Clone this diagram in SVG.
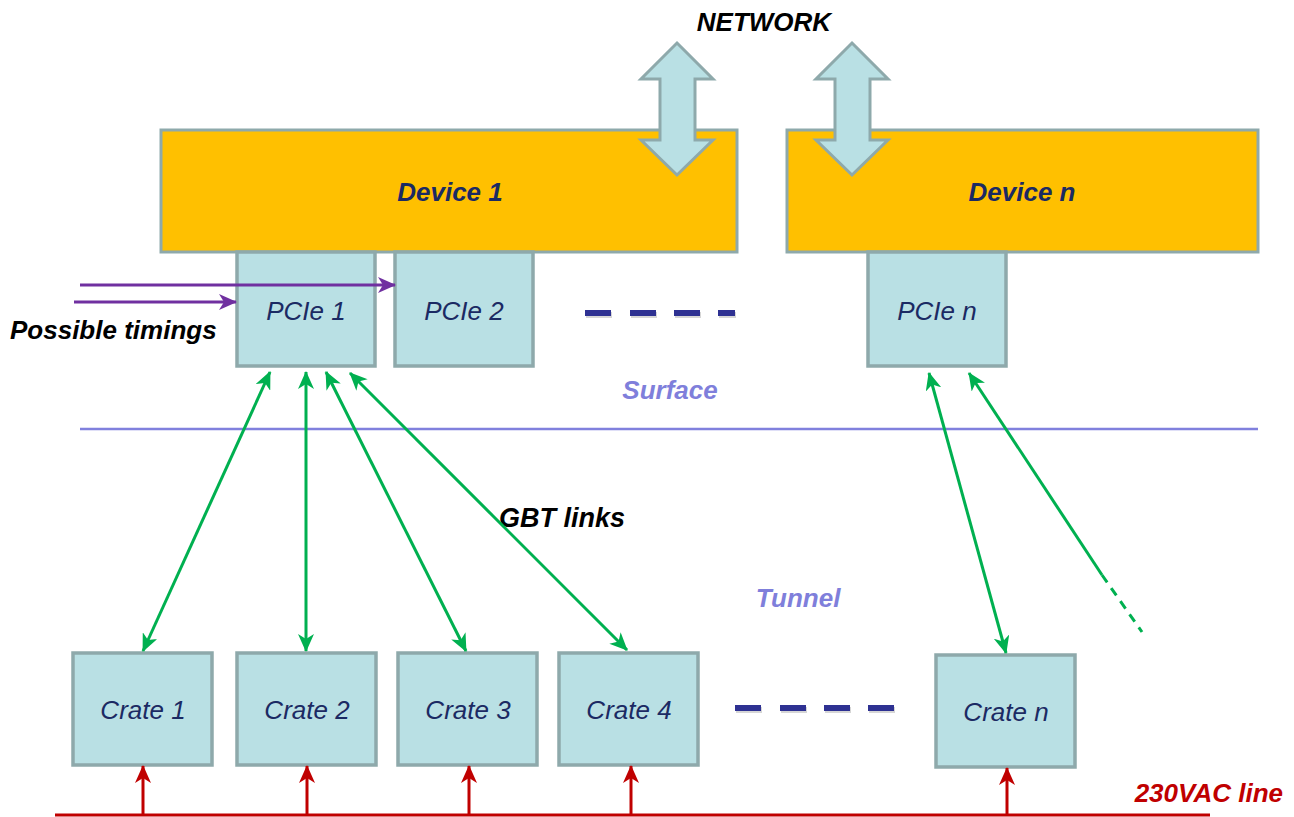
<svg xmlns="http://www.w3.org/2000/svg" width="1294" height="817" viewBox="0 0 1294 817">
<style>
.dev{fill:#FFC000;stroke:#8EA9AB;stroke-width:3}
.box{fill:#B9E0E4;stroke:#8EA9AB;stroke-width:3.5}
.net{fill:#B9E0E4;stroke:#8EA9AB;stroke-width:3;stroke-linejoin:miter}
.t{font-family:"Liberation Sans",Arial,sans-serif;font-style:italic;text-anchor:middle}
.bt{font-family:"Liberation Sans",Arial,sans-serif;font-style:italic;font-weight:bold}
.lbl{font-size:26px;fill:#1B2A63}
.g{stroke:#00B050;stroke-width:3;fill:none}
.r{stroke:#C00000;stroke-width:3;fill:none}
.p{stroke:#7030A0;stroke-width:3;fill:none}
.dash{fill:#2E3192}
</style>
<defs>
<marker id="ga" viewBox="0 0 18 16" refX="17" refY="8" markerWidth="18" markerHeight="16" markerUnits="userSpaceOnUse" orient="auto-start-reverse">
<path d="M0,0 L18,8 L0,16 L5,8 z" fill="#00B050"/>
</marker>
<marker id="ra" viewBox="0 0 18 16" refX="17" refY="8" markerWidth="18" markerHeight="16" markerUnits="userSpaceOnUse" orient="auto">
<path d="M0,0 L18,8 L0,16 L5,8 z" fill="#C00000"/>
</marker>
<marker id="pa" viewBox="0 0 18 16" refX="17" refY="8" markerWidth="18" markerHeight="16" markerUnits="userSpaceOnUse" orient="auto">
<path d="M0,0 L18,8 L0,16 L5,8 z" fill="#7030A0"/>
</marker>
</defs>
<rect width="1294" height="817" fill="#FFFFFF"/>

<text class="bt" x="764" y="31" font-size="26" text-anchor="middle" fill="#000">NETWORK</text>

<g id="device1">
<rect class="dev" x="161" y="130" width="576" height="122"/>
<text class="t" x="450" y="201" font-size="26" font-weight="bold" fill="#1B2A63">Device 1</text>
</g>
<g id="devicen">
<rect class="dev" x="787" y="130" width="471" height="122"/>
<text class="t" x="1022" y="201" font-size="26" font-weight="bold" fill="#1B2A63">Device n</text>
</g>

<g id="network-arrows">
<polygon class="net" points="677,43 713,79 695,79 695,140 713,140 677,175 641,140 660,140 660,79 641,79"/>
<polygon class="net" points="852,43 888,79 870,79 870,140 888,140 852,175 816,140 835,140 835,79 816,79"/>
</g>

<g id="pcie1">
<rect class="box" x="237" y="252" width="138" height="114"/>
<text class="t lbl" x="306" y="320">PCIe 1</text>
</g>
<g id="pcie2">
<rect class="box" x="395" y="252" width="138" height="114"/>
<text class="t lbl" x="464" y="320">PCIe 2</text>
</g>
<g id="pcien">
<rect class="box" x="868" y="252" width="138" height="114"/>
<text class="t lbl" x="937" y="320">PCIe n</text>
</g>

<g id="dashes">
<rect x="586" y="312" width="26" height="6" fill="#bbb" opacity="0.6"/>
<rect class="dash" x="585" y="310" width="26" height="6"/>
<rect x="631" y="312" width="26" height="6" fill="#bbb" opacity="0.6"/>
<rect class="dash" x="630" y="310" width="26" height="6"/>
<rect x="675" y="312" width="26" height="6" fill="#bbb" opacity="0.6"/>
<rect class="dash" x="674" y="310" width="26" height="6"/>
<rect x="719" y="312" width="17" height="6" fill="#bbb" opacity="0.6"/>
<rect class="dash" x="718" y="310" width="17" height="6"/>
<rect x="736" y="707" width="26" height="6" fill="#bbb" opacity="0.6"/>
<rect class="dash" x="735" y="705" width="26" height="6"/>
<rect x="781" y="707" width="26" height="6" fill="#bbb" opacity="0.6"/>
<rect class="dash" x="780" y="705" width="26" height="6"/>
<rect x="825" y="707" width="26" height="6" fill="#bbb" opacity="0.6"/>
<rect class="dash" x="824" y="705" width="26" height="6"/>
<rect x="869" y="707" width="26" height="6" fill="#bbb" opacity="0.6"/>
<rect class="dash" x="868" y="705" width="26" height="6"/>
</g>

<text class="bt" x="10" y="339" font-size="26" fill="#000">Possible timings</text>

<text class="t" x="670" y="399" font-size="26" font-weight="bold" fill="#7F7FDB">Surface</text>
<line x1="80" y1="429" x2="1258" y2="429" stroke="#8080DD" stroke-width="2.5"/>
<text class="t" x="798" y="607" font-size="26" font-weight="bold" fill="#7F7FDB">Tunnel</text>
<text class="bt" x="562" y="527" font-size="27" text-anchor="middle" fill="#000">GBT links</text>

<g id="crate1">
<rect class="box" x="73" y="653" width="139" height="112"/>
<text class="t lbl" x="143" y="719">Crate 1</text>
</g>
<g id="crate2">
<rect class="box" x="237" y="653" width="139" height="112"/>
<text class="t lbl" x="307" y="719">Crate 2</text>
</g>
<g id="crate3">
<rect class="box" x="398" y="653" width="139" height="112"/>
<text class="t lbl" x="468" y="719">Crate 3</text>
</g>
<g id="crate4">
<rect class="box" x="559" y="653" width="139" height="112"/>
<text class="t lbl" x="629" y="719">Crate 4</text>
</g>
<g id="craten">
<rect class="box" x="936" y="655" width="139" height="112"/>
<text class="t lbl" x="1006" y="721">Crate n</text>
</g>

<text class="bt" x="1283" y="802" font-size="26" text-anchor="end" fill="#C00000">230VAC line</text>

<g id="connectors">
<line class="p" x1="80" y1="285" x2="395" y2="285" marker-end="url(#pa)"/>
<line class="p" x1="74" y1="302" x2="236" y2="302" marker-end="url(#pa)"/>

<line class="g" x1="270" y1="372" x2="143" y2="651" marker-start="url(#ga)" marker-end="url(#ga)"/>
<line class="g" x1="306" y1="372" x2="306" y2="651" marker-start="url(#ga)" marker-end="url(#ga)"/>
<line class="g" x1="326" y1="372" x2="466" y2="651" marker-start="url(#ga)" marker-end="url(#ga)"/>
<line class="g" x1="350" y1="373" x2="627" y2="650" marker-start="url(#ga)" marker-end="url(#ga)"/>
<line class="g" x1="929" y1="373" x2="1006" y2="653" marker-start="url(#ga)" marker-end="url(#ga)"/>
<line class="g" x1="1102" y1="575" x2="969" y2="373" marker-end="url(#ga)"/>
<line class="g" x1="1102" y1="575" x2="1142" y2="632" stroke-dasharray="9,7"/>

<line class="r" x1="55" y1="815" x2="1210" y2="815"/>
<line class="r" x1="143" y1="815" x2="143" y2="766" marker-end="url(#ra)"/>
<line class="r" x1="307" y1="815" x2="307" y2="766" marker-end="url(#ra)"/>
<line class="r" x1="469" y1="815" x2="469" y2="766" marker-end="url(#ra)"/>
<line class="r" x1="631" y1="815" x2="631" y2="766" marker-end="url(#ra)"/>
<line class="r" x1="1007" y1="815" x2="1007" y2="768" marker-end="url(#ra)"/>
</g>
</svg>
